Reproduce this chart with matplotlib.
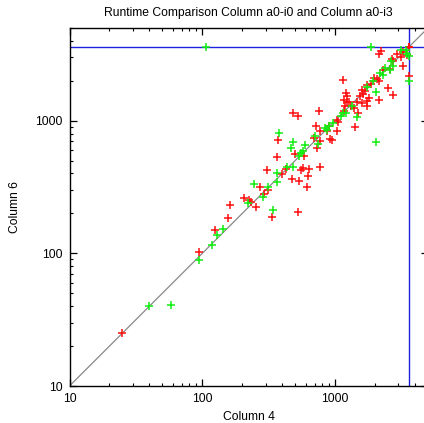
import matplotlib
matplotlib.use("Agg")
import matplotlib.pyplot as plt
from matplotlib.ticker import LogLocator, FixedLocator, NullFormatter, FixedFormatter

plt.rcParams['font.family'] = ['Liberation Sans', 'DejaVu Sans']

title = "Runtime Comparison Column a0-i0 and Column a0-i3"
xlabel = "Column 4"
ylabel = "Column 6"
timeout = 3600
axis_min, axis_max = 10, 5000
major_ticks = [10, 100, 1000]
major_labels = ["10", "100", "1000"]

# red series (Column 4, Column 6)
red_x = [25, 94, 124, 157, 163, 207, 226, 231, 255, 290, 314, 272, 336, 528, 309, 367, 370,
         400, 429, 475, 534, 555, 578, 639, 764, 623, 618, 501, 583, 688, 769, 731, 915, 943,
         1039, 484, 528, 760, 718, 774, 899, 873, 1042, 1057, 1187, 1223, 1153, 1208, 1223,
         1173, 1279, 1311, 1469, 1586, 1730, 1809, 2141, 1730, 1173, 1395, 1412, 1586, 1631,
         1539, 1730, 1864, 1963, 2141, 2307, 2516, 2715, 2715, 3263, 3600, 3600, 3600, 3600,
         2216, 2141, 2910, 3263, 3162, 2668, 3497, 2591, 2057, 1680, 1500]
red_y = [25, 103, 150, 186, 231, 261, 252, 243, 225, 279, 301, 319, 187, 206, 427, 535, 719,
         397, 433, 361, 354, 425, 440, 432, 446, 380, 318, 564, 544, 738, 698, 620, 728, 710,
         830, 1143, 1078, 1175, 906, 836, 917, 840, 1018, 970, 1297, 1374, 2039, 1618, 1531,
         1441, 1374, 1283, 1374, 1360, 1297, 1483, 1423, 1399, 1175, 1247, 897, 1714, 1599,
         1526, 1869, 1902, 2101, 1980, 2427, 1765, 1571, 2803, 2570, 2160, 3600, 3600, 3600,
         3334, 3204, 3204, 3278, 3041, 2938, 3148, 2455, 2064, 1663, 1140]

# green series (Column 4, Column 6)
green_x = [40, 58, 95, 119, 130, 142, 221, 246, 285, 311, 339, 363, 363, 378, 463, 479, 593,
           436, 478, 534, 558, 573, 700, 747, 839, 1102, 1208, 969, 904, 864, 1455, 2032,
           1730, 2050, 1919, 2283, 2591, 2715, 3600, 1854, 106, 3135, 3497, 2622, 2197, 3600,
           3401, 2376, 1153, 1334]
green_y = [40, 41, 89, 115, 137, 152, 240, 335, 268, 316, 212, 403, 345, 807, 622, 686, 651,
           446, 444, 538, 570, 589, 761, 665, 881, 1091, 1143, 961, 906, 855, 1067, 690,
           1796, 1656, 1980, 2225, 2427, 2600, 1980, 3600, 3600, 3393, 3204, 2803, 2291, 3095,
           3434, 2499, 1143, 1283]

fig = plt.figure(figsize=(4.24, 4.23), dpi=100)
ax = fig.add_axes([69.5 / 424, 37 / 423, 358.4 / 424, 358 / 423])
ax.set_xscale('log')
ax.set_yscale('log')
ax.set_xlim(axis_min, axis_max)
ax.set_ylim(axis_min, axis_max)

ax.plot([axis_min, axis_max], [axis_min, axis_max], color='#888888', lw=0.9, zorder=1)
ax.axhline(timeout, color='#2020e0', lw=1.0, zorder=2)
ax.axvline(timeout, color='#2020e0', lw=1.0, zorder=2)

ax.plot(red_x, red_y, linestyle='none', marker='+', color='#ff1010', ms=6, mew=1.1, zorder=3)
ax.plot(green_x, green_y, linestyle='none', marker='+', color='#10ee10', ms=6, mew=1.1, zorder=4)

ax.xaxis.set_major_locator(FixedLocator(major_ticks))
ax.yaxis.set_major_locator(FixedLocator(major_ticks))
ax.xaxis.set_major_formatter(FixedFormatter(major_labels))
ax.yaxis.set_major_formatter(FixedFormatter(major_labels))
ax.xaxis.set_minor_locator(LogLocator(base=10, subs=range(2, 10)))
ax.yaxis.set_minor_locator(LogLocator(base=10, subs=range(2, 10)))
ax.xaxis.set_minor_formatter(NullFormatter())
ax.yaxis.set_minor_formatter(NullFormatter())

ax.tick_params(which='both', direction='in', top=True, right=True, labelsize=8.7, color='black')
ax.tick_params(which='major', length=5, width=0.9, pad=5)
ax.tick_params(which='minor', length=2.5, width=0.8)
for s in ax.spines.values():
    s.set_linewidth(1.0)

ax.set_title(title, fontsize=8.7, pad=8.5)
ax.set_xlabel(xlabel, fontsize=8.7, labelpad=4)
ax.set_ylabel(ylabel, fontsize=8.7, labelpad=10)

fig.savefig("out.png", dpi=100)
